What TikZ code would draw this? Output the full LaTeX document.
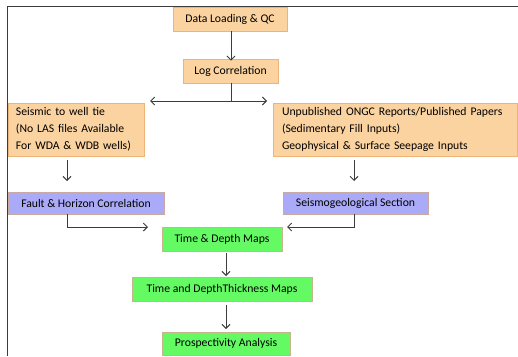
\documentclass[tikz,border=0pt]{standalone}
\usepackage{fontspec}
\setmainfont{Carlito}
\usetikzlibrary{arrows.meta}
\definecolor{orfill}{RGB}{251,211,160}
\definecolor{ordraw}{RGB}{236,180,120}
\definecolor{pufill}{RGB}{170,170,248}
\definecolor{pudraw}{RGB}{200,170,160}
\definecolor{grfill}{RGB}{100,250,100}
\definecolor{grdraw}{RGB}{200,180,140}
\definecolor{lnc}{RGB}{60,60,60}
\tikzset{
  box/.style={rectangle, draw, line width=0.8pt, inner sep=0pt, font=\fontsize{11.7}{17}\selectfont, text=black},
  orbox/.style={box, fill=orfill, draw=ordraw},
  pubox/.style={box, fill=pufill, draw=pudraw},
  grbox/.style={box, fill=grfill, draw=grdraw},
  conn/.style={draw=lnc, line width=0.9pt, -{Straight Barb[length=4pt,width=8pt]}},
  frame/.style={draw=lnc, line width=1.5pt}
}
\begin{document}
\begin{tikzpicture}[x=1pt,y=-1pt]
\useasboundingbox (0,0) rectangle (518,356);
\draw[frame] (7.5,356) -- (7.5,6.5) -- (518,6.5);
\node[orbox, minimum width=114pt, minimum height=24pt] (data) at (230,19) {Data Loading \& QC};
\node[orbox, minimum width=95pt, minimum height=24pt] (log) at (230.5,71) {Log Correlation};
\node[orbox, minimum width=136pt, minimum height=53pt, text width=120pt, align=left] (seis) at (76,129.5) {Seismic to well tie\\(No LAS files Available\\For WDA \& WDB wells)};
\node[orbox, minimum width=244pt, minimum height=53pt, text width=226pt, align=left] (unpub) at (395,129.5) {Unpublished ONGC Reports/Published Papers\\(Sedimentary Fill Inputs)\\Geophysical \& Surface Seepage Inputs};
\node[pubox, minimum width=156pt, minimum height=22pt] (fault) at (86,203) {Fault \& Horizon Correlation};
\node[pubox, minimum width=145pt, minimum height=22pt] (seismo) at (355.5,203) {Seismogeological Section};
\node[grbox, minimum width=120pt, minimum height=24pt] (tdm) at (222,239) {Time \& Depth Maps};
\node[grbox, minimum width=180pt, minimum height=24pt] (tdt) at (222,289) {Time and DepthThickness Maps};
\node[grbox, minimum width=128pt, minimum height=23pt] (prosp) at (226,343.5) {Prospectivity Analysis};
% connectors
\coordinate (split) at (231,101);
\coordinate (splitL) at (150,101);
\coordinate (splitR) at (267,101);
\draw[conn] (data.south -| 231,0) -- ([yshift=-2pt]log.north -| 231,0);
\draw[draw=lnc, line width=0.9pt] (log.south -| split) -- (split);
\draw[conn, {Straight Barb[length=4pt,width=8pt]}-{Straight Barb[length=4pt,width=8pt]}] (splitL) -- (splitR);
\coordinate (sa) at (67,160);
\coordinate (sb) at (67,181);
\draw[conn] (sa) -- (sb);
\coordinate (ua) at (354,160);
\coordinate (ub) at (354,181);
\draw[conn] (ua) -- (ub);
\coordinate (fL) at (67,214);
\coordinate (fR) at (148,227);
\draw[conn] (fL) |- (fR);
\coordinate (sL) at (354,214);
\coordinate (sR) at (287,227);
\draw[conn] (sL) |- (sR);
\coordinate (t1) at (226,253);
\coordinate (t2) at (226,276);
\draw[conn] (t1) -- (t2);
\coordinate (t3) at (226,305);
\coordinate (t4) at (226,329);
\draw[conn] (t3) -- (t4);
\end{tikzpicture}
\end{document}
